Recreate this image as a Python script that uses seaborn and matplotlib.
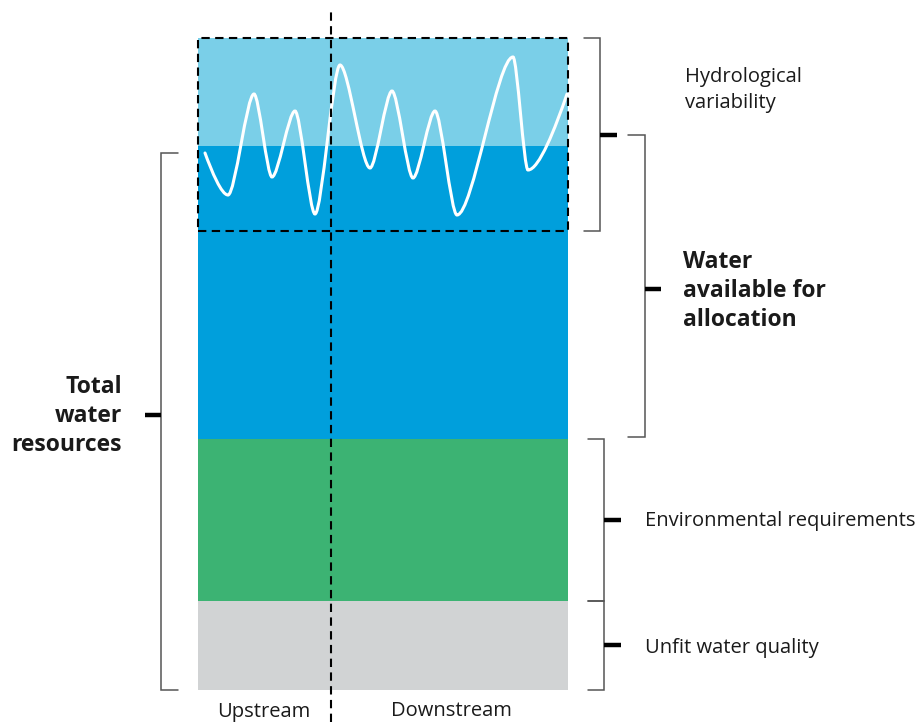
import numpy as np
import pandas as pd
import seaborn as sns
import matplotlib
matplotlib.use("Agg")
import matplotlib.pyplot as plt
from matplotlib.path import Path
from matplotlib.patches import PathPatch

# ---- data (diagram units; bar bottom = 0) ----
layers = ["Unfit water quality", "Environmental requirements",
          "Water available for allocation", "Hydrological variability"]
heights = [89, 162, 293, 108]
colors = ["#d1d3d4", "#3cb373", "#009fdc", "#7acfe8"]

# variability range (dashed box)
var_low, var_high = 459, 652

# flow wave extrema (x position, level)
wave_x = [205, 228, 254, 272, 295, 315, 340, 370, 392, 413, 435, 457, 513, 528, 567]
wave_y = [537, 495, 596, 513, 579, 476, 625, 522, 599, 512, 579, 475, 633, 520, 596]

bar_left, bar_right = 198, 568
divider_x = 331

sns.set_theme(style="white")
plt.rcParams['font.family'] = ['Open Sans', 'DejaVu Sans']

fig = plt.figure(figsize=(9.22, 7.22), dpi=100)
ax = fig.add_axes([0, 0, 1, 1])
ax.set_xlim(0, 922)
ax.set_ylim(-32, 690)
ax.axis("off")

df = pd.DataFrame({"layer": layers, "height": heights, "color": colors})
df["bottom"] = df["height"].cumsum() - df["height"]
ax.bar([(bar_left + bar_right) / 2] * len(df), df["height"], bottom=df["bottom"],
       width=bar_right - bar_left, color=df["color"], edgecolor="none", zorder=1)

# smooth wave through extrema (cubic Bezier, horizontal tangents at extrema)
k = 0.28
verts = [(wave_x[0], wave_y[0])]
codes = [Path.MOVETO]
n = len(wave_x)
for i in range(n - 1):
    x0, y0, x1, y1 = wave_x[i], wave_y[i], wave_x[i + 1], wave_y[i + 1]
    dx = x1 - x0
    if i == 0:
        c1 = (x0 + dx * 0.3, y0 + (y1 - y0) * 0.45)
    else:
        c1 = (x0 + dx * k, y0)
    if i == n - 2:
        c2 = (x1 - dx * 0.3, y1 - (y1 - y0) * 0.45)
    else:
        c2 = (x1 - dx * k, y1)
    verts += [c1, c2, (x1, y1)]
    codes += [Path.CURVE4] * 3
ax.add_patch(PathPatch(Path(verts, codes), facecolor="none", edgecolor="white",
                       lw=2.2, zorder=3, capstyle="round"))

# dashed variability box
ax.plot([bar_left, bar_right, bar_right, bar_left, bar_left],
        [var_low, var_low, var_high, var_high, var_low],
        color="black", lw=1.5, ls=(0, (4, 2.6)), zorder=4)
# upstream/downstream divider
ax.plot([divider_x, divider_x], [-32, 682], color="black", lw=1.5,
        ls=(0, (4, 2.6)), zorder=4)

def bracket(x, y0, y1, xend, tick_y=None, tick_len=17, side=1):
    ax.plot([xend, x, x, xend], [y0, y0, y1, y1], color="#555555", lw=1.1,
            solid_joinstyle="miter", zorder=2)
    ty = (y0 + y1) / 2 if tick_y is None else tick_y
    ax.plot([x, x + side * tick_len], [ty, ty], color="black", lw=3.2,
            solid_capstyle="butt", zorder=2)

cum = np.cumsum(heights)
var_mid = (var_low + var_high) / 2
bracket(600, var_low, var_high, 584)
bracket(645, cum[1] + 2, var_mid, 628, tick_y=401, tick_len=16)
bracket(604, cum[0], cum[1], 588, tick_y=170)
bracket(604, 0, cum[0], 588, tick_y=45)
bracket(161, 0, 537, 178, tick_y=275, tick_len=16, side=-1)

fs = 14.5
fsb = 16.5
tc = "#1a1a1a"
ax.text(685, 600, "Hydrological\nvariability", fontsize=fs, ha="left", va="center",
        linespacing=1.45, color=tc)
ax.text(683, 399, "Water\navailable for\nallocation", fontsize=fsb, fontweight="bold",
        ha="left", va="center", linespacing=1.26, color=tc)
ax.text(122, 274, "Total\nwater\nresources", fontsize=fsb, fontweight="bold",
        ha="right", va="center", linespacing=1.26, color=tc, multialignment="right")
ax.text(645, 169, "Environmental requirements", fontsize=fs, ha="left", va="center",
        color=tc)
ax.text(645, 42, "Unfit water quality", fontsize=fs, ha="left", va="center",
        color=tc)
ax.text(264, -21.5, "Upstream", fontsize=fs, ha="center", va="center", color=tc)
ax.text(451, -21.5, "Downstream", fontsize=fs, ha="center", va="center", color=tc)

fig.savefig("out.png", dpi=100)
